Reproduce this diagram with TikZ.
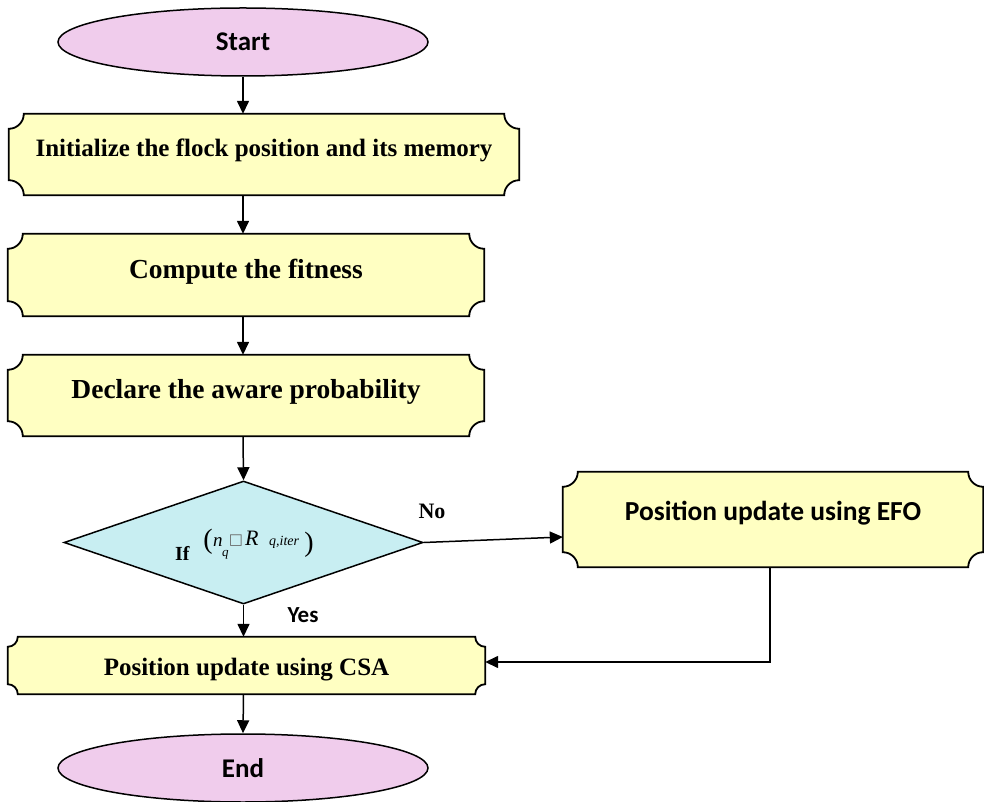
\documentclass[tikz,border=0pt]{standalone}
\usepackage{fontspec}
\setmainfont{Liberation Serif}
\newfontfamily\calib{Carlito}
\newfontfamily\dejavu{DejaVu Sans}
\usetikzlibrary{shapes.geometric,arrows.meta,backgrounds}
\definecolor{pinkfill}{RGB}{240,204,236}
\definecolor{yellowfill}{RGB}{255,255,194}
\definecolor{cyanfill}{RGB}{200,238,242}
\newcommand{\plaqueshape}[2]{%
  \draw[plaquestyle] ([xshift=#2]#1.north west) -- ([xshift=-#2]#1.north east)
    arc[start angle=180,end angle=270,radius=#2] -- ([yshift=#2]#1.south east)
    arc[start angle=90,end angle=180,radius=#2] -- ([xshift=#2]#1.south west)
    arc[start angle=0,end angle=90,radius=#2] -- ([yshift=-#2]#1.north west)
    arc[start angle=270,end angle=360,radius=#2] -- cycle;}
\begin{document}
\begin{tikzpicture}[x=1pt,y=1pt,
  plaquestyle/.style={draw=black,line width=1.8pt,fill=yellowfill},
  termbox/.style={ellipse,draw=black,line width=1.5pt,fill=pinkfill,inner sep=0pt,
    font=\calib\bfseries\fontsize{27}{32}\selectfont},
  stepbox/.style={rectangle,inner sep=0pt,align=center},
  decbox/.style={diamond,draw=black,line width=1.5pt,fill=cyanfill,inner sep=0pt},
  conn/.style={line width=1.5pt,-{Triangle[length=13pt,width=12pt]}},
  lbl/.style={inner sep=0pt}]
\useasboundingbox (0,0) rectangle (984,801);

\node[termbox,minimum width=370pt,minimum height=68pt] (start) at (243,759) {Start};
\node[stepbox,minimum width=510pt,minimum height=81pt,text height=16.5pt,text depth=13pt,
  font=\bfseries\fontsize{25}{30}\selectfont] (init) at (264,646.5) {Initialize the flock position and its memory};
\node[stepbox,minimum width=476pt,minimum height=82pt,text height=18pt,text depth=10pt,
  font=\bfseries\fontsize{27.5}{32}\selectfont] (fit) at (246,526) {Compute the fitness};
\node[stepbox,minimum width=476pt,minimum height=81pt,text height=18pt,text depth=11pt,
  font=\bfseries\fontsize{27.5}{32}\selectfont] (decl) at (246,405.5) {Declare the aware probability};
\node[decbox,minimum width=359pt,minimum height=123pt] (dia) at (243.5,258.5) {};
\node[stepbox,minimum width=420pt,minimum height=95pt,text height=17.7pt,text depth=16pt,
  font=\calib\bfseries\fontsize{27.5}{32}\selectfont] (efo) at (773,281.5) {Position update using EFO};
\node[stepbox,minimum width=477pt,minimum height=57pt,text height=20.5pt,text depth=0pt,
  font=\bfseries\fontsize{25}{30}\selectfont] (csa) at (246.5,135.5) {Position update using CSA};
\node[termbox,minimum width=370pt,minimum height=68pt] (end) at (243,33) {End};

\begin{scope}[on background layer]
  \plaqueshape{init}{15pt}
  \plaqueshape{fit}{15pt}
  \plaqueshape{decl}{15pt}
  \plaqueshape{efo}{15pt}
  \plaqueshape{csa}{10pt}
\end{scope}

% condition text
\node[lbl,anchor=base west,font=\bfseries\fontsize{20}{24}\selectfont] (ifw) at (175,241) {If};
\node[lbl,font=\fontsize{28}{32}\selectfont] (lp) at (208,259) {(};
\node[lbl,anchor=base west,font=\itshape\fontsize{19}{23}\selectfont] (nn) at (213,255) {n};
\node[lbl,anchor=base west,font=\itshape\fontsize{13}{15}\selectfont] (qq) at (222,245) {q};
\node[lbl,anchor=base,font=\dejavu\fontsize{15}{17}\selectfont,text=black!60] (sq) at (236,257) {□};
\node[lbl,anchor=base west,font=\itshape\fontsize{22}{26}\selectfont] (rr) at (245,256) {R};
\node[lbl,anchor=base west,font=\itshape\fontsize{14}{16}\selectfont] (qi) at (269,256) {q,iter};
\node[lbl,font=\fontsize{28}{32}\selectfont] (rp) at (309,256) {)};

\node[lbl,font=\bfseries\fontsize{22}{26}\selectfont] (no) at (432,290) {No};
\node[lbl,font=\calib\bfseries\fontsize{23}{27}\selectfont] (yes) at (303,186) {Yes};

% connectors
\draw[conn] (start.south) -- (start.south |- init.north);
\draw[conn] (start.south |- init.south) -- (start.south |- fit.north);
\draw[conn] (start.south |- fit.south) -- (start.south |- decl.north);
\draw[conn] (start.south |- decl.south) -- (dia.north);
\draw[conn] (dia.east) -- ([yshift=-17.5pt]efo.west);
\draw[conn] (dia.south) -- (dia.south |- csa.north);
\draw[conn] ([xshift=-3pt]efo.south) |- ([yshift=3.5pt]csa.east);
\draw[conn] (csa.south -| dia.south) -- (end.north);
\end{tikzpicture}
\end{document}
